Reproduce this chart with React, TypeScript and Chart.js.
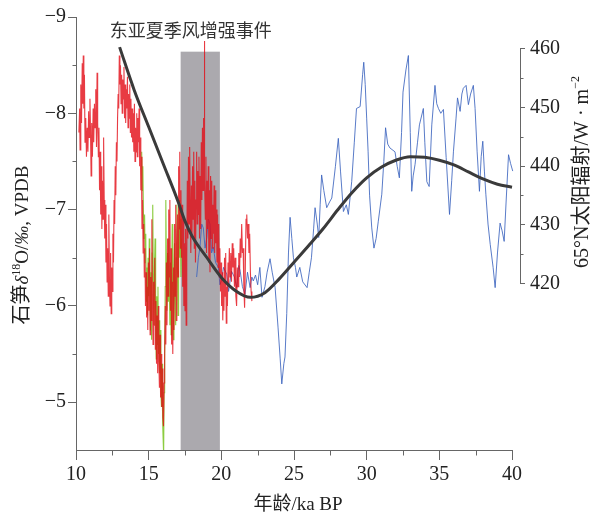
import React, { useEffect, useRef } from "react";
import { Chart, registerables } from "chart.js";
Chart.register(...registerables);

// ---------- axis definitions ----------
const xMajorTicks = [10, 15, 20, 25, 30, 35, 40];
const xMinorTicks = [12.5, 17.5, 22.5, 27.5, 32.5, 37.5];
const leftMajorTicks = [-9, -8, -7, -6, -5];
const leftMinorTicks = [-8.5, -7.5, -6.5, -5.5];
const rightMajorTicks = [420, 430, 440, 450, 460];
const rightMinorTicks = [425, 435, 445, 455];

// shaded event band (ka BP, δ18O top)
const bandStart = 17.2;
const bandEnd = 19.9;
const bandTop = -8.64;
const annotationText = "东亚夏季风增强事件";
const annotationAge = 17.9;
const annotationVal = -8.86;

// ---------- data ----------
// 65°N insolation (W·m-2)
const insolAge = [13, 14, 15, 16, 17, 17.5, 18, 19, 20, 21, 22, 23, 24, 25, 26, 27, 28, 29, 30, 31, 32, 33, 34, 35, 36, 37, 38, 39, 40];
const insolVal = [460.3, 453.0, 446.7, 440.4, 434.1, 430.6, 428.0, 424.4, 421.0, 418.7, 417.6, 418.4, 420.8, 423.6, 426.4, 429.3, 432.5, 435.5, 438.0, 439.8, 441.0, 441.6, 441.5, 441.0, 440.2, 439.0, 437.8, 436.9, 436.4];

// red stalagmite δ18O record [age, value]
const redRecord: [number, number][] = [
  [10.20,-7.80],[10.25,-8.05],[10.28,-7.62],[10.33,-8.30],[10.38,-7.90],[10.43,-8.52],[10.47,-8.10],[10.50,-8.60],[10.54,-8.05],[10.58,-8.40],
  [10.62,-7.70],[10.67,-7.95],[10.72,-7.55],[10.77,-7.85],[10.82,-7.60],[10.87,-8.02],[10.91,-7.75],[10.96,-8.15],[11.00,-7.80],[11.04,-7.35],
  [11.08,-7.90],[11.13,-7.55],[11.18,-8.05],[11.22,-7.70],[11.27,-8.10],[11.31,-7.85],[11.36,-8.25],[11.41,-7.65],[11.45,-8.42],[11.49,-7.90],
  [11.54,-7.55],[11.58,-7.85],[11.62,-7.20],[11.66,-7.60],[11.70,-6.95],[11.74,-7.45],[11.78,-6.80],[11.82,-7.30],[11.86,-6.90],[11.90,-7.75],
  [11.94,-7.10],[11.98,-6.70],[12.02,-7.05],[12.06,-6.45],[12.10,-6.85],[12.14,-6.25],[12.18,-6.60],[12.22,-6.10],[12.26,-6.95],[12.30,-6.30],
  [12.34,-6.00],[12.38,-6.55],[12.42,-5.92],[12.46,-6.40],[12.50,-6.15],[12.54,-6.75],[12.58,-6.45],[12.62,-7.10],[12.66,-6.85],[12.70,-7.45],
  [12.74,-7.15],[12.78,-7.70],[12.82,-7.50],[12.86,-7.95],[12.90,-8.20],[12.94,-8.05],[12.98,-8.60],[13.02,-8.30],[13.06,-8.50],[13.10,-8.10],
  [13.14,-8.40],[13.18,-8.00],[13.22,-8.35],[13.26,-8.15],[13.30,-8.48],[13.34,-7.95],[13.38,-8.30],[13.42,-7.90],[13.46,-8.25],[13.50,-8.05],
  [13.54,-8.38],[13.58,-7.85],[13.62,-8.20],[13.66,-7.95],[13.70,-8.30],[13.74,-7.80],[13.78,-8.15],[13.82,-7.75],[13.86,-8.05],[13.90,-7.70],
  [13.94,-8.00],[13.98,-7.60],[14.02,-8.10],[14.06,-7.50],[14.10,-7.85],[14.14,-7.60],[14.18,-8.00],[14.22,-7.55],[14.26,-7.95],[14.30,-7.70],
  [14.34,-8.05],[14.38,-7.45],[14.42,-7.75],[14.46,-7.20],[14.50,-7.55],[14.54,-6.80],[14.58,-7.10],[14.62,-6.55],[14.66,-6.85],[14.70,-6.30],
  [14.74,-6.60],[14.78,-6.00],[14.82,-6.35],[14.86,-5.88],[14.90,-6.20],[14.94,-5.75],[14.98,-6.45],[15.02,-5.95],[15.06,-6.60],[15.10,-5.70],
  [15.14,-6.30],[15.18,-5.85],[15.22,-6.90],[15.26,-6.10],[15.30,-5.60],[15.34,-6.25],[15.38,-5.80],[15.42,-6.50],[15.46,-5.55],[15.50,-6.05],
  [15.54,-5.40],[15.58,-5.90],[15.62,-5.30],[15.66,-6.00],[15.70,-5.45],[15.74,-5.15],[15.78,-5.70],[15.82,-5.05],[15.86,-5.50],[15.90,-4.95],
  [15.94,-5.35],[15.98,-4.85],[16.02,-4.75],[16.06,-5.20],[16.10,-5.45],[16.14,-6.00],[16.18,-5.60],[16.22,-6.45],[16.26,-5.80],[16.30,-6.70],
  [16.34,-6.10],[16.38,-7.00],[16.42,-6.30],[16.46,-7.10],[16.50,-5.95],[16.54,-6.60],[16.58,-5.60],[16.62,-6.25],[16.66,-5.50],[16.70,-6.40],
  [16.74,-5.75],[16.78,-6.85],[16.82,-6.10],[16.86,-7.05],[16.90,-5.85],[16.94,-6.55],[16.98,-6.95],[17.02,-6.30],[17.06,-7.45],[17.10,-6.80],
  [17.14,-7.60],[17.18,-6.60],[17.22,-7.20],[17.26,-6.50],[17.30,-7.05],[17.34,-6.20],[17.38,-6.90],[17.42,-6.00],[17.46,-6.65],[17.50,-5.95],
  [17.54,-6.80],[17.58,-5.80],[17.62,-6.50],[17.66,-7.30],[17.70,-6.70],[17.74,-7.55],[17.78,-6.85],[17.82,-7.65],[17.86,-7.00],[17.90,-6.55],
  [17.94,-7.25],[17.98,-6.75],[18.02,-7.45],[18.06,-6.90],[18.10,-7.60],[18.14,-6.60],[18.18,-7.30],[18.22,-6.45],[18.26,-7.10],[18.30,-7.60],
  [18.34,-6.85],[18.38,-7.40],[18.42,-6.95],[18.46,-7.55],[18.50,-6.70],[18.54,-7.35],[18.58,-6.80],[18.62,-7.70],[18.66,-7.10],[18.70,-7.85],
  [18.74,-7.20],[18.78,-7.95],[18.81,-7.40],[18.83,-8.75],[18.86,-7.30],[18.90,-6.90],[18.94,-7.55],[18.98,-6.55],[19.02,-7.30],[19.06,-6.80],
  [19.10,-7.45],[19.14,-6.45],[19.18,-7.20],[19.22,-6.35],[19.26,-7.35],[19.30,-6.70],[19.34,-7.30],[19.38,-6.60],[19.42,-7.05],[19.46,-6.75],
  [19.50,-7.25],[19.54,-6.55],[19.58,-7.20],[19.62,-6.65],[19.66,-7.00],[19.70,-6.45],[19.74,-6.95],[19.78,-6.40],[19.82,-6.85],[19.86,-6.30],
  [19.90,-6.60],[19.94,-6.15],[19.98,-6.45],[20.02,-6.00],[20.06,-6.35],[20.10,-5.85],[20.14,-6.25],[20.18,-5.95],[20.22,-6.50],[20.26,-6.10],
  [20.30,-6.55],[20.34,-5.82],[20.38,-6.20],[20.42,-6.00],[20.46,-6.45],[20.50,-6.20],[20.55,-6.60],[20.60,-6.30],[20.65,-6.55],[20.70,-6.25],
  [20.75,-6.65],[20.80,-6.40],[20.85,-6.60],[20.90,-6.20],[20.95,-6.50],[21.00,-6.10],[21.05,-6.00],[21.10,-6.40],[21.15,-6.20],[21.20,-6.55],
  [21.25,-6.30],[21.30,-6.70],[21.35,-6.50],[21.40,-6.85],[21.45,-6.55],[21.50,-6.60],[21.55,-6.20],[21.60,-5.98],[21.65,-6.40],[21.70,-6.90],
  [21.75,-6.95],[21.80,-6.70],[21.85,-6.85],[21.90,-6.55],[21.95,-6.75],[22.00,-6.35],[22.05,-6.15],[22.10,-6.05]
];

// green stalagmite δ18O record [age, value]
const greenRecord: [number, number][] = [
  [14.52,-7.60],[14.56,-7.20],[14.60,-7.45],[14.64,-6.95],[14.68,-6.70],[14.72,-6.95],[14.76,-6.45],[14.80,-6.75],[14.84,-6.05],[14.88,-6.40],
  [14.92,-5.90],[14.96,-6.50],[15.00,-6.10],[15.04,-6.70],[15.08,-6.25],[15.12,-5.75],[15.16,-6.35],[15.20,-5.65],[15.24,-6.55],[15.28,-7.05],
  [15.32,-6.30],[15.36,-5.80],[15.40,-6.40],[15.44,-6.70],[15.48,-5.95],[15.52,-5.45],[15.56,-6.10],[15.60,-5.60],[15.64,-6.20],[15.68,-5.50],
  [15.72,-5.85],[15.76,-5.30],[15.80,-5.75],[15.84,-5.10],[15.88,-4.95],[15.92,-5.40],[15.96,-4.80],[16.00,-4.60],[16.03,-4.45],[16.06,-5.10],
  [16.10,-5.50],[16.14,-6.20],[16.18,-7.10],[16.22,-6.40],[16.26,-5.95],[16.30,-6.55],[16.34,-6.05],[16.38,-6.70],[16.42,-6.25],[16.46,-5.80],
  [16.50,-6.45],[16.54,-5.70],[16.58,-6.30],[16.62,-6.85],[16.66,-6.20],[16.70,-5.65],[16.74,-6.30],[16.78,-6.65],[16.82,-6.05],[16.86,-5.80],
  [16.90,-6.50],[16.94,-7.05],[16.98,-6.40],[17.02,-5.90],[17.06,-6.60],[17.10,-7.10],[17.14,-6.50],[17.18,-6.90],[17.22,-6.30],[17.26,-6.70]
];

// blue stalagmite δ18O record [age, value]
const blueRecord: [number, number][] = [
  [18.30,-6.30],[18.42,-6.50],[18.53,-6.61],[18.65,-6.85],[18.76,-6.81],[18.88,-6.60],[19.00,-6.71],[19.10,-6.90],[19.22,-6.85],[19.33,-6.55],
  [19.45,-6.61],[19.60,-6.45],[19.80,-6.40],[19.90,-6.22],[20.00,-6.26],[20.15,-6.40],[20.37,-6.33],[20.50,-6.15],[20.70,-6.36],[20.90,-6.30],
  [21.06,-6.19],[21.20,-6.42],[21.30,-6.36],[21.45,-6.20],[21.63,-6.12],[21.80,-6.35],[21.98,-6.19],[22.10,-6.30],[22.20,-6.26],[22.35,-6.32],
  [22.50,-6.22],[22.65,-6.40],[22.80,-6.09],[23.00,-6.20],[23.15,-6.35],[23.35,-6.49],[23.50,-6.35],[23.70,-6.19],[23.90,-5.78],[24.05,-5.45],
  [24.16,-5.19],[24.30,-5.40],[24.38,-5.47],[24.50,-5.92],[24.62,-6.55],[24.73,-6.92],[24.85,-6.70],[24.96,-6.50],[25.10,-6.40],[25.19,-6.30],
  [25.40,-6.40],[25.60,-6.25],[25.90,-6.19],[26.05,-6.35],[26.20,-6.50],[26.35,-6.80],[26.45,-7.02],[26.60,-6.85],[26.70,-6.71],[26.80,-7.05],
  [26.90,-7.36],[27.05,-7.20],[27.25,-7.02],[27.45,-7.08],[27.60,-7.12],[27.85,-7.45],[28.05,-7.74],[28.20,-7.40],[28.40,-6.98],[28.60,-7.05],
  [28.74,-6.95],[28.97,-7.29],[29.15,-7.70],[29.30,-8.05],[29.55,-8.07],[29.72,-8.40],[29.80,-8.53],[29.90,-8.30],[30.00,-7.95],[30.10,-7.60],
  [30.20,-7.15],[30.35,-6.81],[30.50,-6.60],[30.65,-6.70],[30.80,-6.88],[31.04,-7.16],[31.18,-7.50],[31.30,-7.85],[31.45,-7.68],[31.60,-7.64],
  [31.95,-7.60],[32.10,-7.45],[32.25,-7.33],[32.40,-7.80],[32.50,-8.22],[32.70,-8.45],[32.87,-8.60],[33.00,-7.80],[33.10,-7.19],[33.20,-7.35],
  [33.33,-7.47],[33.50,-7.70],[33.63,-7.88],[33.90,-8.05],[34.00,-7.70],[34.14,-7.29],[34.30,-7.24],[34.48,-7.88],[34.70,-8.29],[34.82,-8.10],
  [34.94,-8.05],[35.10,-8.00],[35.28,-8.04],[35.47,-7.54],[35.70,-6.95],[35.85,-7.30],[35.97,-7.60],[36.15,-7.95],[36.25,-8.16],[36.43,-8.02],
  [36.55,-8.20],[36.65,-8.26],[36.84,-8.29],[37.00,-8.09],[37.15,-8.20],[37.34,-8.29],[37.46,-8.05],[37.60,-7.60],[37.76,-7.19],[37.88,-7.55],
  [37.99,-7.71],[38.10,-7.40],[38.20,-7.16],[38.35,-6.85],[38.50,-6.64],[38.70,-6.40],[38.84,-6.19],[39.00,-6.55],[39.18,-6.86],[39.32,-6.78],
  [39.46,-6.67],[39.60,-7.10],[39.76,-7.57],[39.90,-7.48],[40.05,-7.40]
];

// ---------- styling ----------
const SERIF = '"Liberation Serif", "Times New Roman", serif';
const CJK = '"Noto Sans CJK SC", sans-serif';
const AXIS_COLOR = "#666";
const TEXT_COLOR = "#222";

const toXY = (arr: [number, number][]) => arr.map(([x, y]) => ({ x, y }));

type Seg = { text: string; font: string; dy?: number };

function drawRich(ctx: CanvasRenderingContext2D, segs: Seg[], cx: number, cy: number, rot: number, base: number) {
  ctx.save();
  ctx.translate(cx, cy);
  ctx.rotate(rot);
  ctx.textAlign = "left";
  ctx.textBaseline = "alphabetic";
  ctx.fillStyle = TEXT_COLOR;
  let total = 0;
  const widths = segs.map((s) => {
    ctx.font = s.font;
    const w = ctx.measureText(s.text).width;
    total += w;
    return w;
  });
  let x = -total / 2;
  segs.forEach((s, i) => {
    ctx.font = s.font;
    ctx.fillText(s.text, x, base + (s.dy || 0));
    x += widths[i];
  });
  ctx.restore();
}

const decorPlugin = {
  id: "decor",
  beforeDatasetsDraw(chart: any) {
    const { ctx, chartArea, scales } = chart;
    const x = scales.x, y = scales.y;
    const x0 = x.getPixelForValue(bandStart);
    const x1 = x.getPixelForValue(bandEnd);
    const yTop = y.getPixelForValue(bandTop);
    ctx.save();
    ctx.fillStyle = "#aba9ae";
    ctx.fillRect(x0, yTop, x1 - x0, chartArea.bottom - yTop);
    ctx.restore();
  },
  afterDraw(chart: any) {
    const { ctx, chartArea, scales } = chart;
    const x = scales.x, y = scales.y, y2 = scales.y2;
    ctx.save();
    ctx.strokeStyle = AXIS_COLOR;
    ctx.lineWidth = 1;
    // bottom axis line (10 -> 40)
    const bx0 = x.getPixelForValue(xMajorTicks[0]);
    const bx1 = x.getPixelForValue(xMajorTicks[xMajorTicks.length - 1]);
    const by = Math.round(chartArea.bottom) + 0.5;
    ctx.beginPath();
    ctx.moveTo(bx0, by);
    ctx.lineTo(bx1 + 0.5, by);
    ctx.stroke();
    // bottom minor ticks
    xMinorTicks.forEach((v) => {
      const px = Math.round(x.getPixelForValue(v)) + 0.5;
      ctx.beginPath();
      ctx.moveTo(px, by);
      ctx.lineTo(px, by + 5);
      ctx.stroke();
    });
    // left minor ticks
    const lx = Math.round(chartArea.left) + 0.5;
    leftMinorTicks.forEach((v) => {
      const py = Math.round(y.getPixelForValue(v)) + 0.5;
      ctx.beginPath();
      ctx.moveTo(lx, py);
      ctx.lineTo(lx - 4, py);
      ctx.stroke();
    });
    // right axis line (420 -> 460)
    const rx = Math.round(chartArea.right) + 0.5;
    ctx.beginPath();
    ctx.moveTo(rx, y2.getPixelForValue(rightMajorTicks[0]));
    ctx.lineTo(rx, y2.getPixelForValue(rightMajorTicks[rightMajorTicks.length - 1]));
    ctx.stroke();
    rightMinorTicks.forEach((v) => {
      const py = Math.round(y2.getPixelForValue(v)) + 0.5;
      ctx.beginPath();
      ctx.moveTo(rx, py);
      ctx.lineTo(rx + 3, py);
      ctx.stroke();
    });
    ctx.restore();

    // annotation
    ctx.save();
    ctx.font = `18px ${CJK}`;
    ctx.fillStyle = "#333";
    ctx.textAlign = "center";
    ctx.textBaseline = "middle";
    ctx.fillText(annotationText, x.getPixelForValue(annotationAge), y.getPixelForValue(annotationVal));
    ctx.restore();

    // left axis title
    drawRich(
      ctx,
      [
        { text: "石笋", font: `20px ${CJK}` },
        { text: "δ", font: `italic 19px ${SERIF}` },
        { text: "18", font: `12px ${SERIF}`, dy: -8 },
        { text: "O/", font: `19px ${SERIF}` },
        { text: "‰", font: `italic 19px ${SERIF}` },
        { text: ", VPDB", font: `19px ${SERIF}` },
      ],
      21,
      245,
      -Math.PI / 2,
      7
    );
    // right axis title
    drawRich(
      ctx,
      [
        { text: "65°N", font: `20px ${SERIF}` },
        { text: "太阳辐射", font: `20px ${CJK}` },
        { text: "/W · m", font: `20px ${SERIF}` },
        { text: "−2", font: `12px ${SERIF}`, dy: -9 },
      ],
      581,
      172,
      -Math.PI / 2,
      7
    );
  },
};

export default function App() {
  const ref = useRef<HTMLCanvasElement>(null);
  useEffect(() => {
    if (!ref.current) return;
    const chart = new Chart(ref.current, {
      type: "scatter",
      data: {
        datasets: [
          {
            label: "insolation",
            data: insolAge.map((a, i) => ({ x: a, y: insolVal[i] })),
            yAxisID: "y2",
            showLine: true,
            borderColor: "#3a3a3a",
            borderWidth: 3,
            pointRadius: 0,
            cubicInterpolationMode: "monotone",
          },
          {
            label: "red",
            data: toXY(redRecord),
            yAxisID: "y",
            showLine: true,
            borderColor: "rgba(226,10,20,0.8)",
            borderWidth: 1.1,
            pointRadius: 0,
          },
          {
            label: "blue",
            data: toXY(blueRecord),
            yAxisID: "y",
            showLine: true,
            borderColor: "rgba(60,100,190,0.85)",
            borderWidth: 1,
            pointRadius: 0,
          },
          {
            label: "green",
            data: toXY(greenRecord),
            yAxisID: "y",
            showLine: true,
            borderColor: "rgba(120,195,30,0.85)",
            borderWidth: 1.1,
            pointRadius: 0,
          },
        ],
      },
      options: {
        responsive: false,
        animation: false,
        devicePixelRatio: 1,
        layout: { padding: { top: 15, left: 0, right: 0, bottom: 0 } },
        plugins: { legend: { display: false }, tooltip: { enabled: false } },
        scales: {
          x: {
            type: "linear",
            position: "bottom",
            min: 10,
            max: 40.55,
            afterBuildTicks: (s: any) => {
              s.ticks = xMajorTicks.map((v) => ({ value: v }));
            },
            afterFit: (s: any) => {
              s.height = 67;
            },
            ticks: {
              font: { family: SERIF, size: 20 },
              color: TEXT_COLOR,
              padding: 3,
              maxRotation: 0,
              autoSkip: false,
              callback: (v: any) => String(v),
            },
            grid: { drawOnChartArea: false, drawTicks: true, tickLength: 10, color: AXIS_COLOR, tickColor: AXIS_COLOR },
            border: { display: false },
            title: {
              display: true,
              text: "年龄/ka BP",
              font: { family: `"Liberation Serif", "Noto Sans CJK SC", serif`, size: 19 },
              color: TEXT_COLOR,
              padding: { top: 0, bottom: 1 },
            },
          },
          y: {
            type: "linear",
            position: "left",
            reverse: true,
            min: -9,
            max: -4.504,
            afterBuildTicks: (s: any) => {
              s.ticks = leftMajorTicks.map((v) => ({ value: v }));
            },
            afterFit: (s: any) => {
              s.width = 76;
            },
            ticks: {
              font: { family: SERIF, size: 20 },
              color: TEXT_COLOR,
              padding: 2,
              callback: (v: any) => "\u2212" + Math.abs(Number(v)),
            },
            grid: { drawOnChartArea: false, drawTicks: true, tickLength: 8, color: AXIS_COLOR, tickColor: AXIS_COLOR },
            border: { display: true, color: AXIS_COLOR, width: 1 },
            title: { display: false },
          },
          y2: {
            type: "linear",
            position: "right",
            min: 391.55,
            max: 465.44,
            afterBuildTicks: (s: any) => {
              s.ticks = rightMajorTicks.map((v) => ({ value: v }));
            },
            afterFit: (s: any) => {
              s.width = 72;
            },
            ticks: {
              font: { family: SERIF, size: 20 },
              color: TEXT_COLOR,
              padding: 5,
              callback: (v: any) => String(v),
            },
            grid: { drawOnChartArea: false, drawTicks: true, tickLength: 5, color: AXIS_COLOR, tickColor: AXIS_COLOR },
            border: { display: false },
            title: { display: false },
          },
        },
      } as any,
      plugins: [decorPlugin],
    });
    return () => chart.destroy();
  }, []);

  return (
    <div style={{ position: "fixed", left: 0, top: 0, width: 592, height: 517, background: "#fff" }}>
      <canvas ref={ref} width={592} height={517} style={{ display: "block" }} />
    </div>
  );
}
